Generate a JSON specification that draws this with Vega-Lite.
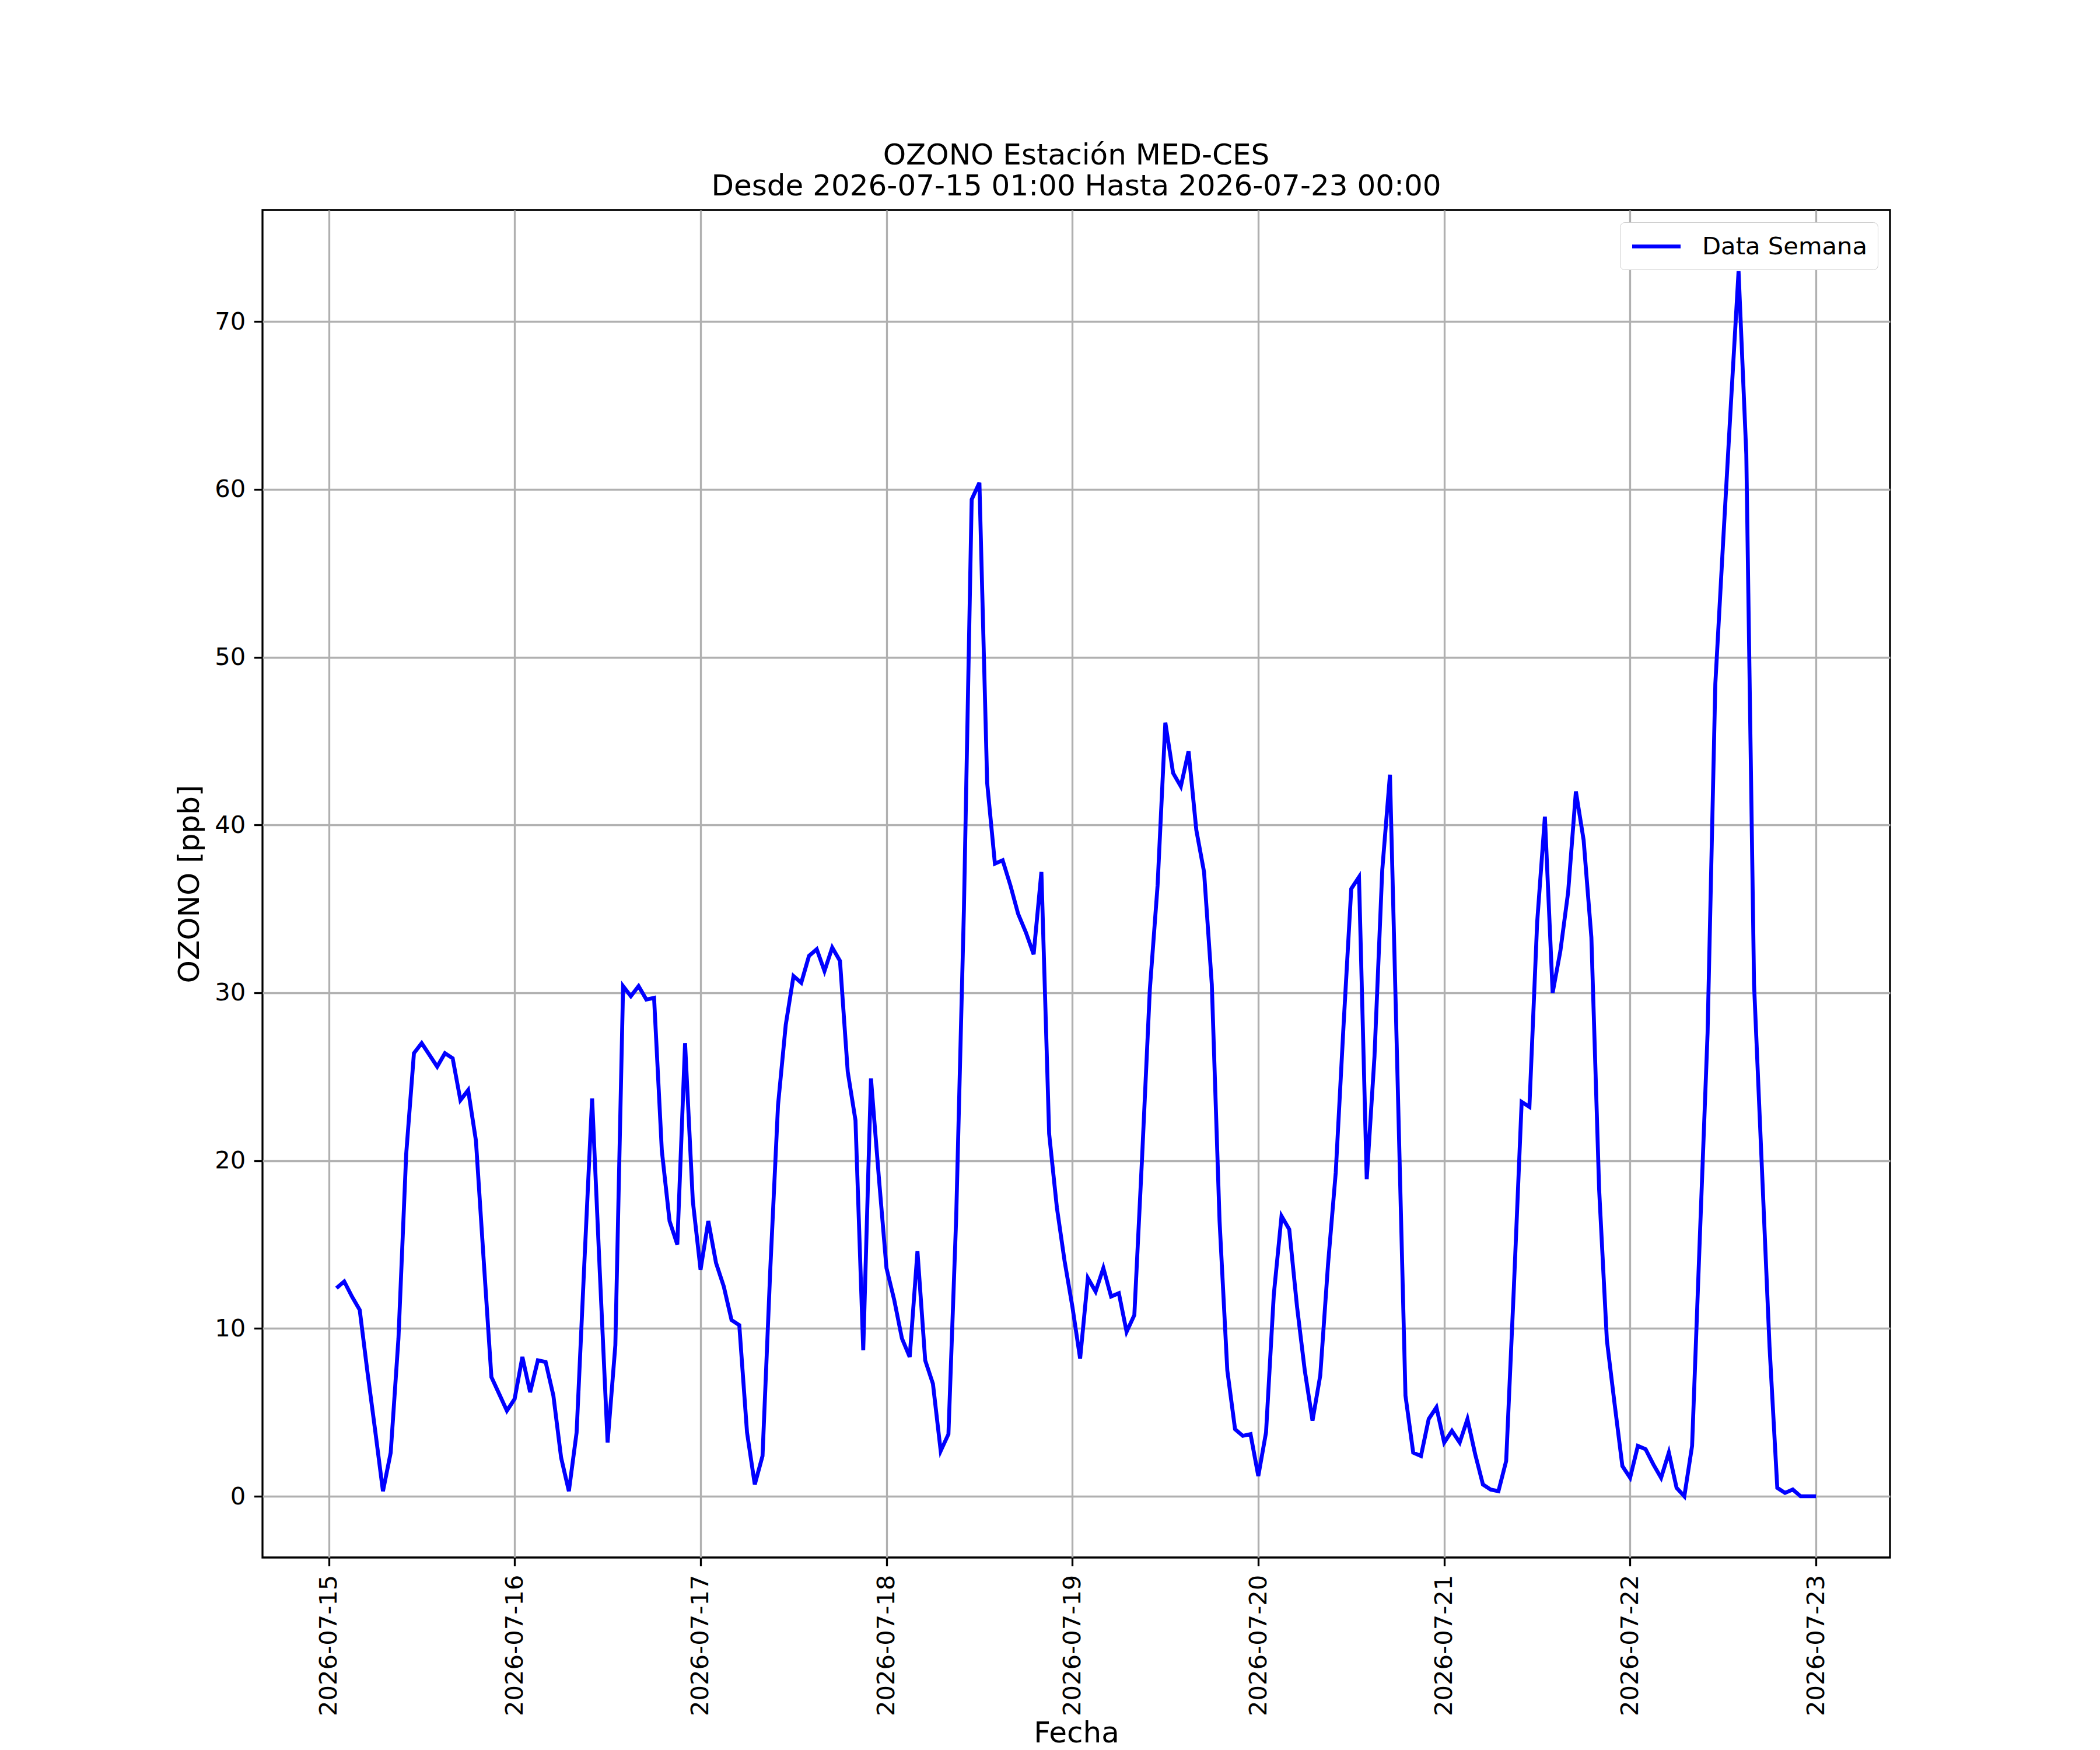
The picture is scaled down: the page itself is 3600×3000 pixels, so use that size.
{
  "$schema": "https://vega.github.io/schema/vega-lite/v6.json",
  "description": "Ozono horario, estación MED-CES, una semana",
  "width": 2790,
  "height": 2310,
  "autosize": "none",
  "padding": {"left": 450, "top": 360, "right": 360, "bottom": 330},
  "background": "white",
  "title": {
    "text": ["OZONO Estación MED-CES", "Desde 2026-07-15 01:00 Hasta 2026-07-23 00:00"],
    "anchor": "middle",
    "offset": 15
  },
  "data": {
    "values": [
      {"fecha": "2026-07-15 01:00", "ozono": 12.4},
      {"fecha": "2026-07-15 02:00", "ozono": 12.8},
      {"fecha": "2026-07-15 03:00", "ozono": 11.9},
      {"fecha": "2026-07-15 04:00", "ozono": 11.1},
      {"fecha": "2026-07-15 05:00", "ozono": 7.4},
      {"fecha": "2026-07-15 06:00", "ozono": 3.9},
      {"fecha": "2026-07-15 07:00", "ozono": 0.3},
      {"fecha": "2026-07-15 08:00", "ozono": 2.6},
      {"fecha": "2026-07-15 09:00", "ozono": 9.4},
      {"fecha": "2026-07-15 10:00", "ozono": 20.4},
      {"fecha": "2026-07-15 11:00", "ozono": 26.4},
      {"fecha": "2026-07-15 12:00", "ozono": 27.0},
      {"fecha": "2026-07-15 13:00", "ozono": 26.3},
      {"fecha": "2026-07-15 14:00", "ozono": 25.6},
      {"fecha": "2026-07-15 15:00", "ozono": 26.4},
      {"fecha": "2026-07-15 16:00", "ozono": 26.1},
      {"fecha": "2026-07-15 17:00", "ozono": 23.6},
      {"fecha": "2026-07-15 18:00", "ozono": 24.2},
      {"fecha": "2026-07-15 19:00", "ozono": 21.2},
      {"fecha": "2026-07-15 20:00", "ozono": 14.1},
      {"fecha": "2026-07-15 21:00", "ozono": 7.1},
      {"fecha": "2026-07-15 22:00", "ozono": 6.1},
      {"fecha": "2026-07-15 23:00", "ozono": 5.1},
      {"fecha": "2026-07-16 00:00", "ozono": 5.8},
      {"fecha": "2026-07-16 01:00", "ozono": 8.3},
      {"fecha": "2026-07-16 02:00", "ozono": 6.2},
      {"fecha": "2026-07-16 03:00", "ozono": 8.1},
      {"fecha": "2026-07-16 04:00", "ozono": 8.0},
      {"fecha": "2026-07-16 05:00", "ozono": 6.0},
      {"fecha": "2026-07-16 06:00", "ozono": 2.3},
      {"fecha": "2026-07-16 07:00", "ozono": 0.3},
      {"fecha": "2026-07-16 08:00", "ozono": 3.8},
      {"fecha": "2026-07-16 09:00", "ozono": 13.9},
      {"fecha": "2026-07-16 10:00", "ozono": 23.7},
      {"fecha": "2026-07-16 11:00", "ozono": 13.3},
      {"fecha": "2026-07-16 12:00", "ozono": 3.2},
      {"fecha": "2026-07-16 13:00", "ozono": 9.0},
      {"fecha": "2026-07-16 14:00", "ozono": 30.4},
      {"fecha": "2026-07-16 15:00", "ozono": 29.8},
      {"fecha": "2026-07-16 16:00", "ozono": 30.4},
      {"fecha": "2026-07-16 17:00", "ozono": 29.6},
      {"fecha": "2026-07-16 18:00", "ozono": 29.7},
      {"fecha": "2026-07-16 19:00", "ozono": 20.6},
      {"fecha": "2026-07-16 20:00", "ozono": 16.4},
      {"fecha": "2026-07-16 21:00", "ozono": 15.0},
      {"fecha": "2026-07-16 22:00", "ozono": 27.0},
      {"fecha": "2026-07-16 23:00", "ozono": 17.6},
      {"fecha": "2026-07-17 00:00", "ozono": 13.5},
      {"fecha": "2026-07-17 01:00", "ozono": 16.4},
      {"fecha": "2026-07-17 02:00", "ozono": 13.9},
      {"fecha": "2026-07-17 03:00", "ozono": 12.5},
      {"fecha": "2026-07-17 04:00", "ozono": 10.5},
      {"fecha": "2026-07-17 05:00", "ozono": 10.2},
      {"fecha": "2026-07-17 06:00", "ozono": 3.8},
      {"fecha": "2026-07-17 07:00", "ozono": 0.7},
      {"fecha": "2026-07-17 08:00", "ozono": 2.4},
      {"fecha": "2026-07-17 09:00", "ozono": 13.5},
      {"fecha": "2026-07-17 10:00", "ozono": 23.3},
      {"fecha": "2026-07-17 11:00", "ozono": 28.1},
      {"fecha": "2026-07-17 12:00", "ozono": 31.0},
      {"fecha": "2026-07-17 13:00", "ozono": 30.6},
      {"fecha": "2026-07-17 14:00", "ozono": 32.2},
      {"fecha": "2026-07-17 15:00", "ozono": 32.6},
      {"fecha": "2026-07-17 16:00", "ozono": 31.3},
      {"fecha": "2026-07-17 17:00", "ozono": 32.7},
      {"fecha": "2026-07-17 18:00", "ozono": 31.9},
      {"fecha": "2026-07-17 19:00", "ozono": 25.3},
      {"fecha": "2026-07-17 20:00", "ozono": 22.4},
      {"fecha": "2026-07-17 21:00", "ozono": 8.7},
      {"fecha": "2026-07-17 22:00", "ozono": 24.9},
      {"fecha": "2026-07-17 23:00", "ozono": 19.1},
      {"fecha": "2026-07-18 00:00", "ozono": 13.6},
      {"fecha": "2026-07-18 01:00", "ozono": 11.7},
      {"fecha": "2026-07-18 02:00", "ozono": 9.4},
      {"fecha": "2026-07-18 03:00", "ozono": 8.3},
      {"fecha": "2026-07-18 04:00", "ozono": 14.6},
      {"fecha": "2026-07-18 05:00", "ozono": 8.1},
      {"fecha": "2026-07-18 06:00", "ozono": 6.7},
      {"fecha": "2026-07-18 07:00", "ozono": 2.7},
      {"fecha": "2026-07-18 08:00", "ozono": 3.7},
      {"fecha": "2026-07-18 09:00", "ozono": 16.6},
      {"fecha": "2026-07-18 10:00", "ozono": 35.0},
      {"fecha": "2026-07-18 11:00", "ozono": 59.4},
      {"fecha": "2026-07-18 12:00", "ozono": 60.4},
      {"fecha": "2026-07-18 13:00", "ozono": 42.5},
      {"fecha": "2026-07-18 14:00", "ozono": 37.7},
      {"fecha": "2026-07-18 15:00", "ozono": 37.9},
      {"fecha": "2026-07-18 16:00", "ozono": 36.4},
      {"fecha": "2026-07-18 17:00", "ozono": 34.7},
      {"fecha": "2026-07-18 18:00", "ozono": 33.6},
      {"fecha": "2026-07-18 19:00", "ozono": 32.3},
      {"fecha": "2026-07-18 20:00", "ozono": 37.2},
      {"fecha": "2026-07-18 21:00", "ozono": 21.6},
      {"fecha": "2026-07-18 22:00", "ozono": 17.2},
      {"fecha": "2026-07-18 23:00", "ozono": 14.0},
      {"fecha": "2026-07-19 00:00", "ozono": 11.3},
      {"fecha": "2026-07-19 01:00", "ozono": 8.2},
      {"fecha": "2026-07-19 02:00", "ozono": 13.0},
      {"fecha": "2026-07-19 03:00", "ozono": 12.2},
      {"fecha": "2026-07-19 04:00", "ozono": 13.6},
      {"fecha": "2026-07-19 05:00", "ozono": 11.9},
      {"fecha": "2026-07-19 06:00", "ozono": 12.1},
      {"fecha": "2026-07-19 07:00", "ozono": 9.8},
      {"fecha": "2026-07-19 08:00", "ozono": 10.8},
      {"fecha": "2026-07-19 09:00", "ozono": 20.2},
      {"fecha": "2026-07-19 10:00", "ozono": 30.2},
      {"fecha": "2026-07-19 11:00", "ozono": 36.4},
      {"fecha": "2026-07-19 12:00", "ozono": 46.1},
      {"fecha": "2026-07-19 13:00", "ozono": 43.1},
      {"fecha": "2026-07-19 14:00", "ozono": 42.3},
      {"fecha": "2026-07-19 15:00", "ozono": 44.4},
      {"fecha": "2026-07-19 16:00", "ozono": 39.7},
      {"fecha": "2026-07-19 17:00", "ozono": 37.2},
      {"fecha": "2026-07-19 18:00", "ozono": 30.5},
      {"fecha": "2026-07-19 19:00", "ozono": 16.4},
      {"fecha": "2026-07-19 20:00", "ozono": 7.5},
      {"fecha": "2026-07-19 21:00", "ozono": 4.0},
      {"fecha": "2026-07-19 22:00", "ozono": 3.6},
      {"fecha": "2026-07-19 23:00", "ozono": 3.7},
      {"fecha": "2026-07-20 00:00", "ozono": 1.2},
      {"fecha": "2026-07-20 01:00", "ozono": 3.8},
      {"fecha": "2026-07-20 02:00", "ozono": 12.0},
      {"fecha": "2026-07-20 03:00", "ozono": 16.7},
      {"fecha": "2026-07-20 04:00", "ozono": 15.9},
      {"fecha": "2026-07-20 05:00", "ozono": 11.3},
      {"fecha": "2026-07-20 06:00", "ozono": 7.5},
      {"fecha": "2026-07-20 07:00", "ozono": 4.5},
      {"fecha": "2026-07-20 08:00", "ozono": 7.2},
      {"fecha": "2026-07-20 09:00", "ozono": 13.8},
      {"fecha": "2026-07-20 10:00", "ozono": 19.3},
      {"fecha": "2026-07-20 11:00", "ozono": 28.0},
      {"fecha": "2026-07-20 12:00", "ozono": 36.2},
      {"fecha": "2026-07-20 13:00", "ozono": 36.9},
      {"fecha": "2026-07-20 14:00", "ozono": 18.9},
      {"fecha": "2026-07-20 15:00", "ozono": 26.2},
      {"fecha": "2026-07-20 16:00", "ozono": 37.3},
      {"fecha": "2026-07-20 17:00", "ozono": 43.0},
      {"fecha": "2026-07-20 18:00", "ozono": 24.5},
      {"fecha": "2026-07-20 19:00", "ozono": 6.0},
      {"fecha": "2026-07-20 20:00", "ozono": 2.6},
      {"fecha": "2026-07-20 21:00", "ozono": 2.4},
      {"fecha": "2026-07-20 22:00", "ozono": 4.6},
      {"fecha": "2026-07-20 23:00", "ozono": 5.3},
      {"fecha": "2026-07-21 00:00", "ozono": 3.2},
      {"fecha": "2026-07-21 01:00", "ozono": 3.9},
      {"fecha": "2026-07-21 02:00", "ozono": 3.2},
      {"fecha": "2026-07-21 03:00", "ozono": 4.6},
      {"fecha": "2026-07-21 04:00", "ozono": 2.5},
      {"fecha": "2026-07-21 05:00", "ozono": 0.7},
      {"fecha": "2026-07-21 06:00", "ozono": 0.4},
      {"fecha": "2026-07-21 07:00", "ozono": 0.3},
      {"fecha": "2026-07-21 08:00", "ozono": 2.1},
      {"fecha": "2026-07-21 09:00", "ozono": 12.5},
      {"fecha": "2026-07-21 10:00", "ozono": 23.5},
      {"fecha": "2026-07-21 11:00", "ozono": 23.2},
      {"fecha": "2026-07-21 12:00", "ozono": 34.2},
      {"fecha": "2026-07-21 13:00", "ozono": 40.5},
      {"fecha": "2026-07-21 14:00", "ozono": 30.0},
      {"fecha": "2026-07-21 15:00", "ozono": 32.5},
      {"fecha": "2026-07-21 16:00", "ozono": 36.0},
      {"fecha": "2026-07-21 17:00", "ozono": 42.0},
      {"fecha": "2026-07-21 18:00", "ozono": 39.1},
      {"fecha": "2026-07-21 19:00", "ozono": 33.3},
      {"fecha": "2026-07-21 20:00", "ozono": 18.3},
      {"fecha": "2026-07-21 21:00", "ozono": 9.3},
      {"fecha": "2026-07-21 22:00", "ozono": 5.5},
      {"fecha": "2026-07-21 23:00", "ozono": 1.8},
      {"fecha": "2026-07-22 00:00", "ozono": 1.1},
      {"fecha": "2026-07-22 01:00", "ozono": 3.0},
      {"fecha": "2026-07-22 02:00", "ozono": 2.8},
      {"fecha": "2026-07-22 03:00", "ozono": 1.9},
      {"fecha": "2026-07-22 04:00", "ozono": 1.1},
      {"fecha": "2026-07-22 05:00", "ozono": 2.6},
      {"fecha": "2026-07-22 06:00", "ozono": 0.5},
      {"fecha": "2026-07-22 07:00", "ozono": 0.0},
      {"fecha": "2026-07-22 08:00", "ozono": 3.0},
      {"fecha": "2026-07-22 09:00", "ozono": 15.4},
      {"fecha": "2026-07-22 10:00", "ozono": 27.6},
      {"fecha": "2026-07-22 11:00", "ozono": 48.4},
      {"fecha": "2026-07-22 12:00", "ozono": 56.8},
      {"fecha": "2026-07-22 13:00", "ozono": 65.0},
      {"fecha": "2026-07-22 14:00", "ozono": 73.0},
      {"fecha": "2026-07-22 15:00", "ozono": 62.1},
      {"fecha": "2026-07-22 16:00", "ozono": 30.5},
      {"fecha": "2026-07-22 17:00", "ozono": 19.7},
      {"fecha": "2026-07-22 18:00", "ozono": 8.9},
      {"fecha": "2026-07-22 19:00", "ozono": 0.5},
      {"fecha": "2026-07-22 20:00", "ozono": 0.2},
      {"fecha": "2026-07-22 21:00", "ozono": 0.4},
      {"fecha": "2026-07-22 22:00", "ozono": 0.0},
      {"fecha": "2026-07-22 23:00", "ozono": 0.0},
      {"fecha": "2026-07-23 00:00", "ozono": 0.0}
    ]
  },
  "mark": {"type": "line", "strokeWidth": 6.7, "clip": true},
  "encoding": {
    "x": {
      "field": "fecha",
      "type": "temporal",
      "title": "Fecha",
      "scale": {
        "domain": [
          {"year": 2026, "month": 7, "date": 14, "hours": 15, "minutes": 27},
          {"year": 2026, "month": 7, "date": 23, "hours": 9, "minutes": 33}
        ]
      },
      "axis": {
        "values": [
          {"year": 2026, "month": 7, "date": 15},
          {"year": 2026, "month": 7, "date": 16},
          {"year": 2026, "month": 7, "date": 17},
          {"year": 2026, "month": 7, "date": 18},
          {"year": 2026, "month": 7, "date": 19},
          {"year": 2026, "month": 7, "date": 20},
          {"year": 2026, "month": 7, "date": 21},
          {"year": 2026, "month": 7, "date": 22},
          {"year": 2026, "month": 7, "date": 23}
        ],
        "format": "%Y-%m-%d",
        "labelAngle": 270,
        "titlePadding": 76
      }
    },
    "y": {
      "field": "ozono",
      "type": "quantitative",
      "title": "OZONO [ppb]",
      "scale": {"domain": [-3.65, 76.65], "nice": false, "zero": false},
      "axis": {"values": [0, 10, 20, 30, 40, 50, 60, 70], "titlePadding": 17}
    },
    "color": {
      "datum": "Data Semana",
      "type": "nominal",
      "scale": {"range": ["#0000ff"]},
      "legend": {
        "title": null,
        "orient": "top-right",
        "offset": 21,
        "symbolType": "M-2,0L2,0",
        "symbolSize": 1722,
        "symbolStrokeWidth": 6.7,
        "symbolOffset": 21,
        "labelOffset": 54,
        "labelLimit": 0,
        "padding": 17,
        "strokeColor": "#cccccc",
        "fillColor": "white",
        "cornerRadius": 8
      }
    }
  },
  "config": {
    "font": "DejaVu Sans",
    "view": {"stroke": "black", "strokeWidth": 3.3},
    "title": {"fontSize": 50, "fontWeight": "normal", "color": "black", "lineHeight": 53},
    "axis": {
      "labelFontSize": 41.7,
      "labelColor": "black",
      "labelLimit": 0,
      "titleFontSize": 50,
      "titleFontWeight": "normal",
      "titleColor": "black",
      "grid": true,
      "gridColor": "#b0b0b0",
      "gridWidth": 3.3,
      "domain": false,
      "tickColor": "black",
      "tickWidth": 3.3,
      "tickSize": 14.6,
      "labelPadding": 14.6,
      "labelFlush": false,
      "labelOverlap": false
    },
    "legend": {"labelFontSize": 41.7, "labelColor": "black"}
  }
}
